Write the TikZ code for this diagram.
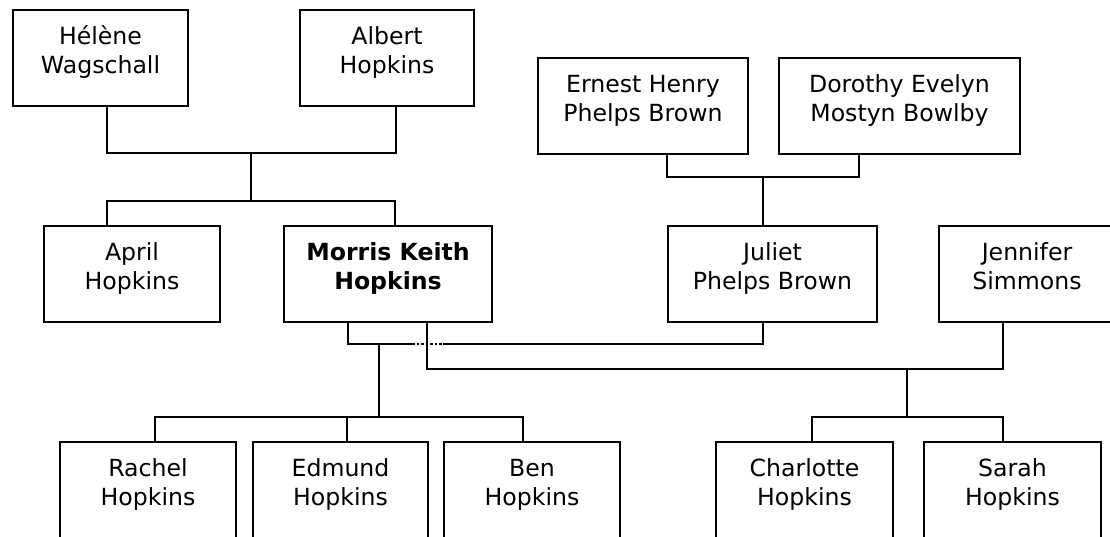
\documentclass[tikz,border=0pt]{standalone}
\usepackage{fontspec}
\setmainfont{DejaVu Sans}
\begin{document}
\begin{tikzpicture}[x=1pt,y=-1pt,
  person/.style={draw=black, line width=2pt, inner sep=0pt, anchor=north west,
    align=center, text height=63.5pt, text depth=32.5pt,
    font=\fontsize{23.6}{29}\selectfont},
  link/.style={draw=black, line width=1.8pt},
  gap/.style={draw=black, line width=2pt, dash pattern=on 2.5pt off 2pt}]
\useasboundingbox (0,0) rectangle (1110,536);
% people
\node[person, minimum width=175pt] (hel) at (12,9) {Hélène\\Wagschall};
\node[person, minimum width=174pt] (alb) at (299,9) {Albert\\Hopkins};
\node[person, minimum width=210pt] (ern) at (537,57) {Ernest Henry\\Phelps Brown};
\node[person, minimum width=241pt] (dor) at (778,57) {Dorothy Evelyn\\Mostyn Bowlby};
\node[person, minimum width=176pt] (apr) at (43,225) {April\\Hopkins};
\node[person, minimum width=208pt, font=\fontsize{23.6}{29}\selectfont\bfseries] (mor) at (283,225) {Morris Keith\\Hopkins};
\node[person, minimum width=209pt] (jul) at (667,225) {Juliet\\Phelps Brown};
\node[person, minimum width=176pt] (jen) at (938,225) {Jennifer\\Simmons};
\node[person, minimum width=176pt] (rac) at (59,441) {Rachel\\Hopkins};
\node[person, minimum width=175pt] (edm) at (252,441) {Edmund\\Hopkins};
\node[person, minimum width=176pt] (ben) at (443,441) {Ben\\Hopkins};
\node[person, minimum width=177pt] (cha) at (715,441) {Charlotte\\Hopkins};
\node[person, minimum width=177pt] (sar) at (923,441) {Sarah\\Hopkins};
% junction points
\coordinate (p1) at (251,153);
\coordinate (s1) at (251,201);
\coordinate (p2) at (763,177);
\coordinate (m1) at (379,344);
\coordinate (m2) at (907,369);
\coordinate (c1) at (379,417);
\coordinate (c2) at (907,417);
\coordinate (d1) at (412,344);
\coordinate (d2) at (443,344);
% Helene + Albert
\draw[link] ([xshift=95pt]hel.south west) |- (p1) -| ([xshift=97pt]alb.south west);
\draw[link] (p1) -- (s1);
\draw[link] ([xshift=64pt]apr.north west) |- (s1) -| ([xshift=112pt]mor.north west);
% Ernest + Dorothy
\draw[link] ([xshift=130pt]ern.south west) |- (p2) -| ([xshift=81pt]dor.south west);
\draw[link] (p2) -- ([xshift=96pt]jul.north west);
% Morris + Juliet
\draw[link] ([xshift=65pt]mor.south west) |- (d1);
\draw[gap] (d1) -- (d2);
\draw[link] (d2) -| ([xshift=96pt]jul.south west);
% Morris + Jennifer
\draw[link] ([xshift=144pt]mor.south west) |- (m2) -| ([xshift=65pt]jen.south west);
% children of Morris + Juliet
\draw[link] (m1) -- (c1);
\draw[link] ([xshift=96pt]rac.north west) |- (c1) -| ([xshift=80pt]ben.north west);
\draw[link] ([xshift=95pt]edm.north west) -- ([xshift=95pt]edm.north west |- c1);
% children of Morris + Jennifer
\draw[link] (m2) -- (c2);
\draw[link] ([xshift=97pt]cha.north west) |- (c2) -| ([xshift=80pt]sar.north west);
\end{tikzpicture}
\end{document}
